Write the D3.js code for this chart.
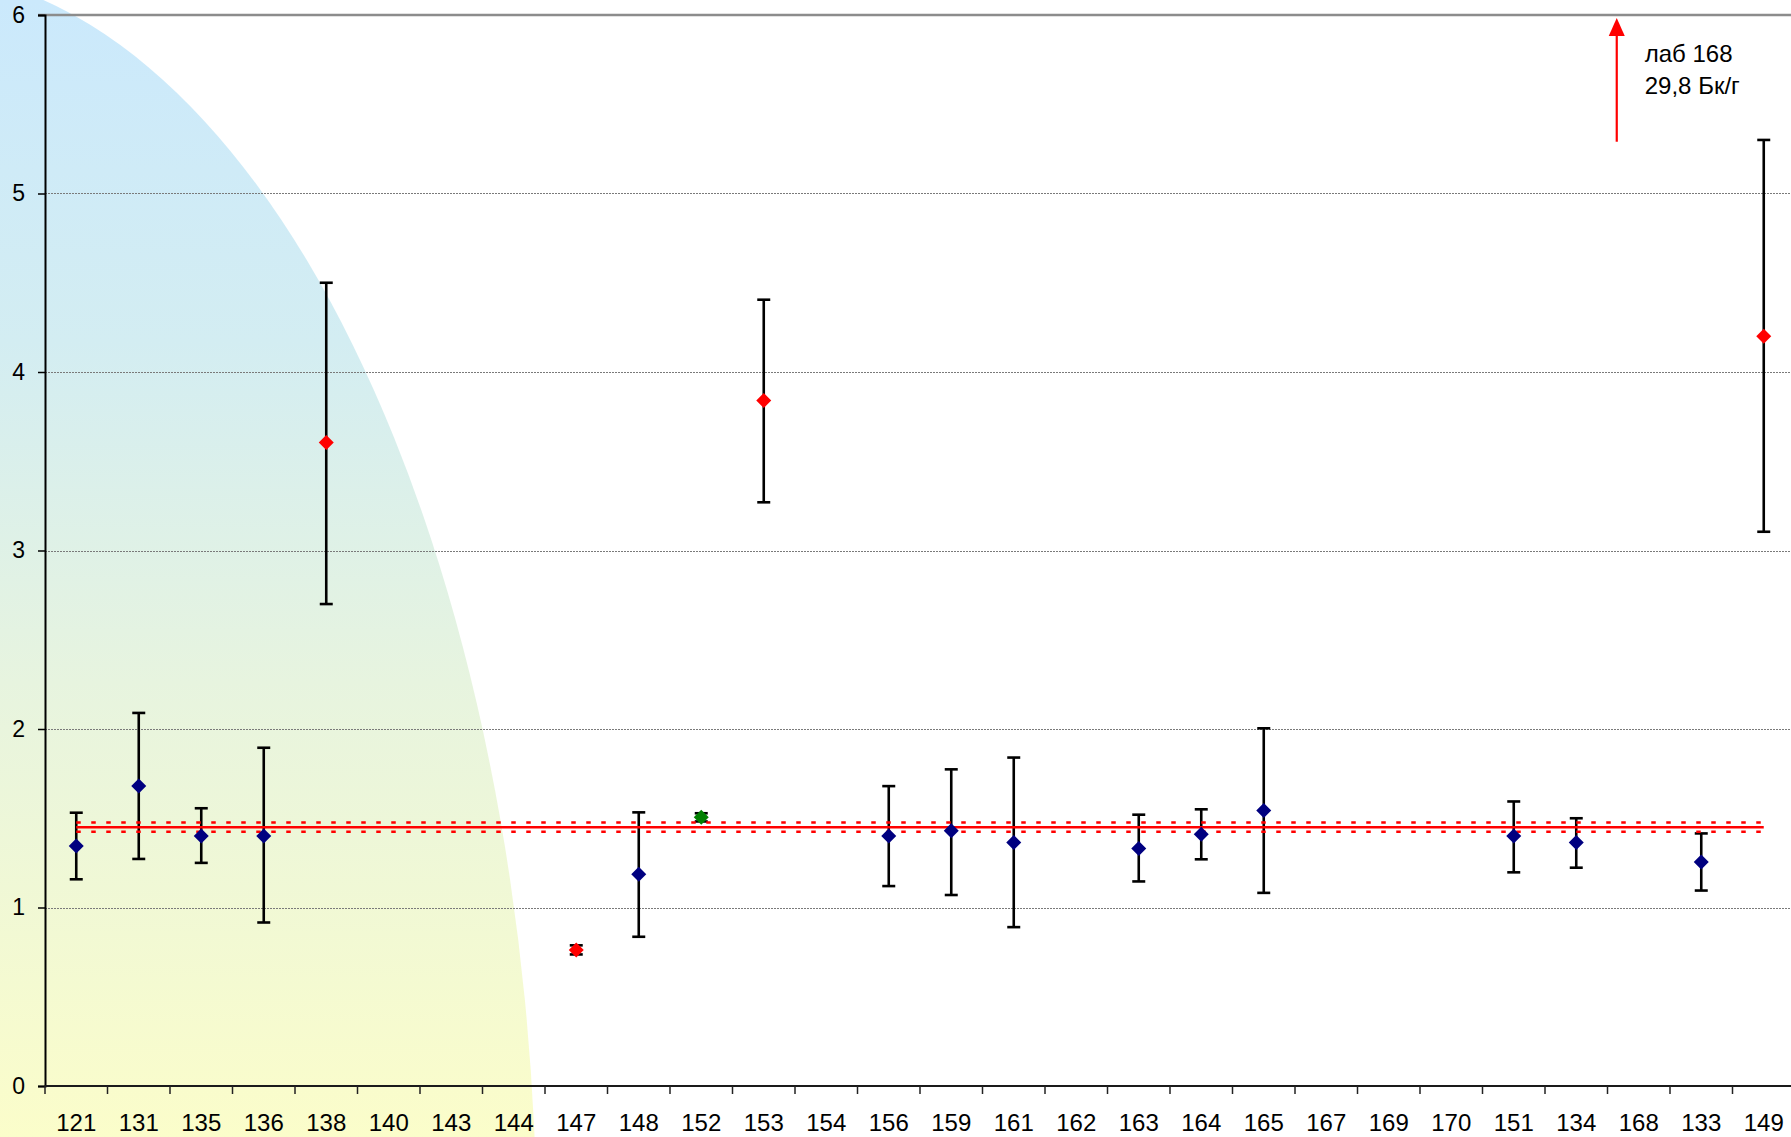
<!DOCTYPE html>
<html>
<head>
<meta charset="utf-8">
<script src="https://cdn.jsdelivr.net/npm/d3@7"></script>
<style>
  html, body { margin: 0; padding: 0; background: #fff; }
  svg { display: block; font-family: "Liberation Sans", Arial, sans-serif; }
</style>
</head>
<body>
<script>
// Laboratory codes along the x axis
const labs = ["121","131","135","136","138","140","143","144","147","148","152","153","154",
              "156","159","161","162","163","164","165","167","169","170","151","134","168","133","149"];
// Reported activity, Bq/g (null = no result)
const values = [1.345, 1.68, 1.40, 1.40, 3.605, null, null, null, 0.762, 1.186, 1.505, 3.84, null,
                1.40, 1.43, 1.364, null, 1.33, 1.41, 1.543, null, null, null, 1.40, 1.364, null, 1.255, 4.20];
// Lower and upper ends of the uncertainty interval
const lowBound = [1.158, 1.272, 1.25, 0.916, 2.70, null, null, null, 0.737, 0.836, 1.482, 3.27, null,
                  1.12, 1.07, 0.89, null, 1.146, 1.27, 1.082, null, null, null, 1.197, 1.223, null, 1.095, 3.105];
const highBound = [1.531, 2.09, 1.556, 1.895, 4.50, null, null, null, 0.788, 1.533, 1.528, 4.405, null,
                   1.68, 1.774, 1.84, null, 1.52, 1.55, 2.004, null, null, null, 1.594, 1.50, null, 1.415, 5.30];
// Result class: 0 = consistent, 1 = outlier, 2 = flagged
const status = [0,0,0,0,1,null,null,null,1,0,2,1,null,0,0,0,null,0,0,0,null,null,null,0,0,null,0,1];
// Reference value and its uncertainty band
const refValue = 1.45;
const refLow = 1.424;
const refHigh = 1.476;
// Off-scale result
const offLab = "168";
const offText = ["лаб 168", "29,8 Бк/г"];
const yTicks = [0, 1, 2, 3, 4, 5, 6];

const W = 1791, H = 1137;
const plotLeft = 45, plotTop = 15, plotBottom = 1086;
const band = 62.5;

const svg = d3.select("body").append("svg").attr("width", W).attr("height", H);

const x = d3.scaleBand().domain(labs).range([plotLeft, plotLeft + band * labs.length]).padding(0);
const y = d3.scaleLinear().domain([0, 6]).range([plotBottom, plotTop]);

// Backdrop: gradient-filled ellipse in the lower-left corner
const defs = svg.append("defs");
const grad = defs.append("linearGradient").attr("id", "bg").attr("gradientUnits", "userSpaceOnUse")
  .attr("x1", 0).attr("y1", 0).attr("x2", 0).attr("y2", H);
grad.append("stop").attr("offset", 0).attr("stop-color", "#cbe9fc");
grad.append("stop").attr("offset", 0.3).attr("stop-color", "#d3edf2");
grad.append("stop").attr("offset", 0.6).attr("stop-color", "#e7f4df");
grad.append("stop").attr("offset", 1).attr("stop-color", "#fbfdca");
svg.append("ellipse").attr("cx", -92).attr("cy", 1250).attr("rx", 629).attr("ry", 1280)
  .attr("fill", "url(#bg)");

// Horizontal grid
svg.append("g").selectAll("line").data(yTicks.filter(t => t > 0 && t < 6)).join("line")
  .attr("x1", plotLeft).attr("x2", W).attr("y1", d => Math.round(y(d)) + 0.5).attr("y2", d => Math.round(y(d)) + 0.5)
  .attr("stroke", "#7a7a7a").attr("stroke-width", 1).attr("stroke-dasharray", "2,1");

// Top frame line
svg.append("line").attr("x1", plotLeft - 7).attr("x2", W).attr("y1", y(6)).attr("y2", y(6))
  .attr("stroke", "#8c8c8c").attr("stroke-width", 2.5);

// Y axis
const yAxis = d3.axisLeft(y).tickValues(yTicks).tickSize(7).tickFormat(d3.format("d"));
const gy = svg.append("g").attr("transform", `translate(${plotLeft},0)`).call(yAxis);
gy.select(".domain").attr("stroke", "#000").attr("stroke-width", 2);
gy.selectAll(".tick line").attr("stroke", "#000").attr("stroke-width", 1.5);
gy.selectAll(".tick text").attr("fill", "#000").attr("x", -20)
  .style("font-size", "23px").style("font-family", "'Liberation Sans', Arial, sans-serif");

// X axis: ticks on category boundaries, labels centred in each band
const gx = svg.append("g").attr("transform", `translate(0,${plotBottom})`);
gx.append("line").attr("x1", plotLeft).attr("x2", W).attr("stroke", "#1a1a1a").attr("stroke-width", 2);
gx.selectAll("line.tk").data(d3.range(labs.length + 1)).join("line").attr("class", "tk")
  .attr("x1", i => plotLeft + i * x.bandwidth()).attr("x2", i => plotLeft + i * x.bandwidth())
  .attr("y1", 0).attr("y2", 8).attr("stroke", "#222").attr("stroke-width", 1.5);
gx.selectAll("text").data(labs).join("text")
  .attr("x", d => x(d) + x.bandwidth() / 2).attr("y", 45)
  .attr("text-anchor", "middle").attr("font-size", 24).attr("fill", "#000").text(d => d);

const pts = labs.map((lab, i) => ({ lab, v: values[i], lo: lowBound[i], hi: highBound[i], s: status[i] }))
  .filter(d => d.v != null);
const cx = d => x(d.lab) + x.bandwidth() / 2;

// Uncertainty bars
const eb = svg.append("g").attr("stroke", "#000").attr("stroke-width", 2.6);
eb.selectAll("line.v").data(pts).join("line").attr("class", "v")
  .attr("x1", cx).attr("x2", cx).attr("y1", d => y(d.hi)).attr("y2", d => y(d.lo));
eb.selectAll("line.h").data(pts.flatMap(d => [{ d, v: d.hi }, { d, v: d.lo }])).join("line").attr("class", "h")
  .attr("x1", e => cx(e.d) - 6.5).attr("x2", e => cx(e.d) + 6.5)
  .attr("y1", e => y(e.v)).attr("y2", e => y(e.v));

// Reference value with its band
const x0 = x(labs[0]) + x.bandwidth() / 2, x1 = x(labs[labs.length - 1]) + x.bandwidth() / 2;
svg.append("line").attr("x1", x0).attr("x2", x1).attr("y1", y(refValue)).attr("y2", y(refValue))
  .attr("stroke", "#ff0000").attr("stroke-width", 2.6);
svg.selectAll("line.band").data([refLow, refHigh]).join("line").attr("class", "band")
  .attr("x1", x0).attr("x2", x1).attr("y1", d => y(d)).attr("y2", d => y(d))
  .attr("stroke", "#ff0000").attr("stroke-width", 2.6).attr("stroke-dasharray", "4.5,10.5");

// Diamond markers
const colors = ["#000080", "#ff0000", "#008000"];
const r = 7.5;
svg.append("g").selectAll("path").data(pts).join("path")
  .attr("transform", d => `translate(${cx(d)},${y(d.v)})`)
  .attr("d", `M0,${-r}L${r},0L0,${r}L${-r},0Z`)
  .attr("fill", d => colors[d.s]);

// Off-scale result marker
const ax = x(offLab) + x.bandwidth() / 2 - 22;
svg.append("line").attr("x1", ax).attr("x2", ax).attr("y1", y(5.29)).attr("y2", y(6) + 18)
  .attr("stroke", "#ff0000").attr("stroke-width", 2.2);
svg.append("path").attr("d", `M${ax},${y(6) + 3}L${ax + 8},${y(6) + 21}L${ax - 8},${y(6) + 21}Z`)
  .attr("fill", "#ff0000");
svg.append("g").selectAll("text").data(offText).join("text")
  .attr("x", ax + 28).attr("y", (d, i) => y(6) + 47 + i * 32)
  .attr("font-size", 24).attr("fill", "#000").text(d => d);
</script>
</body>
</html>
